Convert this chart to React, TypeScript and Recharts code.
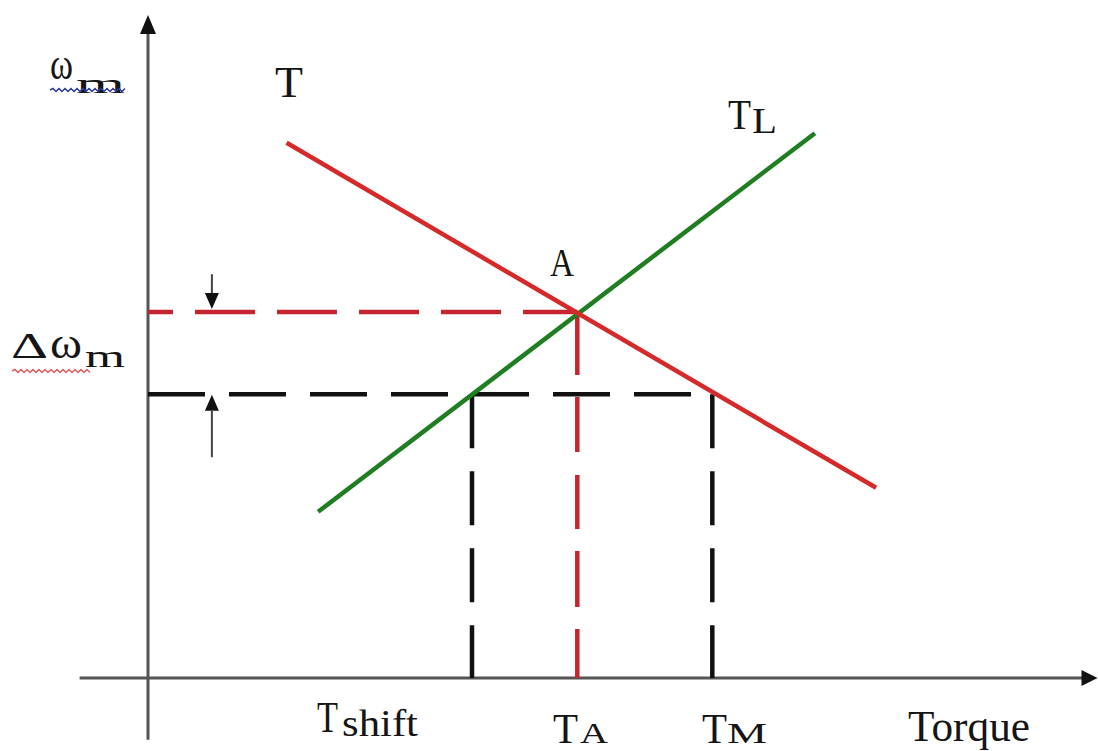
import React from 'react';
import { ComposedChart, Line, XAxis, YAxis, ReferenceLine, ReferenceDot } from 'recharts';

// Motor torque characteristic T (torque, speed)
const motorTorqueCurve = [
  { x: 15.4, y: 89.2 },
  { x: 80.9, y: 31.7 },
];
// Load torque characteristic TL
const loadTorqueCurve = [
  { x: 18.9, y: 27.7 },
  { x: 74.1, y: 90.8 },
];
// Operating point A and shifted speed level
const operatingTorque = 47.7;
const operatingSpeed = 61;
const shiftedSpeed = 47.3;
const shiftTorque = 36;
const maxTorque = 62.7;
// Axis extents
const axisXStart = -7.6;
const axisXEnd = 104.2;
const axisXTip = 105.5;
const axisYStart = -10.3;
const axisYEnd = 107.5;
const axisYTip = 110.5;
// Δω marker arrows
const markerX = 7.1;
const downArrow = { from: 67.3, to: 63.8, tip: 61.5 };
const upArrow = { from: 36.8, to: 44.5, tip: 47.2 };

const xDomain = [-148 / 9, 950 / 9];
const yDomain = [-73 / 6, 678 / 6];

const AXIS = '#555555';
const RED = '#d42a2a';
const DRED = '#c62530';
const GREEN = '#1f7d22';
const INK = '#151515';
const FONT = '"Liberation Serif", "Times New Roman", serif';

const upHead = (w: number, h: number, color: string) => (p: any) => (
  <polygon points={`${p.cx},${p.cy} ${p.cx - w},${p.cy + h} ${p.cx + w},${p.cy + h}`} fill={color} />
);
const downHead = (w: number, h: number, color: string) => (p: any) => (
  <polygon points={`${p.cx},${p.cy} ${p.cx - w},${p.cy - h} ${p.cx + w},${p.cy - h}`} fill={color} />
);
const rightHead = (w: number, h: number, color: string) => (p: any) => (
  <polygon points={`${p.cx},${p.cy} ${p.cx - h},${p.cy - w} ${p.cx - h},${p.cy + w}`} fill={color} />
);

const wave = (x0: number, x1: number, y: number) => {
  let d = `M ${x0} ${y}`;
  let up = true;
  for (let x = x0 + 3; x <= x1; x += 3) {
    d += ` L ${x} ${up ? y - 1.5 : y + 1.5}`;
    up = !up;
  }
  return d;
};

export default function App() {
  return (
    <div style={{ position: 'absolute', left: 0, top: 0, width: 1098, height: 751, background: '#fff', overflow: 'hidden' }}>
      <ComposedChart width={1098} height={751} margin={{ top: 0, right: 0, bottom: 0, left: 0 }}>
        <XAxis type="number" dataKey="x" domain={xDomain} allowDataOverflow hide />
        <YAxis type="number" dataKey="y" domain={yDomain} allowDataOverflow hide />

        {/* axes */}
        <ReferenceLine segment={[{ x: 0, y: axisYStart }, { x: 0, y: axisYEnd }]} stroke={AXIS} strokeWidth={3} ifOverflow="visible" />
        <ReferenceLine segment={[{ x: axisXStart, y: 0 }, { x: axisXEnd, y: 0 }]} stroke={AXIS} strokeWidth={3} ifOverflow="visible" />
        <ReferenceDot x={0} y={axisYTip} shape={upHead(8, 19, '#111')} ifOverflow="visible" />
        <ReferenceDot x={axisXTip} y={0} shape={rightHead(8, 16, '#111')} ifOverflow="visible" />

        {/* dashed guides */}
        <ReferenceLine segment={[{ x: 0, y: shiftedSpeed }, { x: maxTorque, y: shiftedSpeed }]} stroke="#111" strokeWidth={4.5} strokeDasharray="57 24" ifOverflow="visible" />
        <ReferenceLine segment={[{ x: shiftTorque, y: shiftedSpeed }, { x: shiftTorque, y: 0 }]} stroke="#111" strokeWidth={4.5} strokeDasharray="54 23" ifOverflow="visible" />
        <ReferenceLine segment={[{ x: maxTorque, y: shiftedSpeed }, { x: maxTorque, y: 0 }]} stroke="#111" strokeWidth={4.5} strokeDasharray="54 23" ifOverflow="visible" />
        <ReferenceLine segment={[{ x: 0, y: operatingSpeed }, { x: operatingTorque, y: operatingSpeed }]} stroke={DRED} strokeWidth={4.5} strokeDasharray="60 22" strokeDashoffset={35} ifOverflow="visible" />
        <ReferenceLine segment={[{ x: operatingTorque, y: operatingSpeed }, { x: operatingTorque, y: 0 }]} stroke={DRED} strokeWidth={4.5} strokeDasharray="63 22 55 23 54 22 56 22 60" ifOverflow="visible" />

        {/* Δω marker arrows */}
        <ReferenceLine segment={[{ x: markerX, y: downArrow.from }, { x: markerX, y: downArrow.to }]} stroke="#444" strokeWidth={2} ifOverflow="visible" />
        <ReferenceDot x={markerX} y={downArrow.tip} shape={downHead(7, 16, '#111')} ifOverflow="visible" />
        <ReferenceLine segment={[{ x: markerX, y: upArrow.from }, { x: markerX, y: upArrow.to }]} stroke="#444" strokeWidth={2} ifOverflow="visible" />
        <ReferenceDot x={markerX} y={upArrow.tip} shape={upHead(7, 16, '#111')} ifOverflow="visible" />

        <Line data={loadTorqueCurve} dataKey="y" type="linear" stroke={GREEN} strokeWidth={4.5} dot={false} activeDot={false} isAnimationActive={false} />
        <Line data={motorTorqueCurve} dataKey="y" type="linear" stroke={RED} strokeWidth={4.5} dot={false} activeDot={false} isAnimationActive={false} />
      </ComposedChart>

      <svg width={1098} height={751} style={{ position: 'absolute', left: 0, top: 0, pointerEvents: 'none' }}>
        <g fill={INK} fontFamily={FONT}>
          <text x={50} y={79} fontSize={44} textLength={23} lengthAdjust="spacingAndGlyphs">ω</text>
          <text x={76} y={93} fontSize={28} textLength={49} lengthAdjust="spacingAndGlyphs">m</text>
          <path d={wave(50, 125, 90)} stroke="#2b3a9c" strokeWidth={1.5} fill="none" />

          <text x={11} y={358} fontSize={36} textLength={37} lengthAdjust="spacingAndGlyphs">Δ</text>
          <text x={50} y={358} fontSize={44} textLength={32} lengthAdjust="spacingAndGlyphs">ω</text>
          <text x={85} y={367} fontSize={31} textLength={40} lengthAdjust="spacingAndGlyphs">m</text>
          <path d={wave(12, 92, 371)} stroke="#e06060" strokeWidth={1.5} fill="none" />

          <text x={275} y={97} fontSize={44} textLength={28} lengthAdjust="spacingAndGlyphs">T</text>
          <text x={728} y={129} fontSize={42} textLength={23} lengthAdjust="spacingAndGlyphs">T</text>
          <text x={752} y={133} fontSize={35} textLength={25} lengthAdjust="spacingAndGlyphs">L</text>
          <text x={550} y={276} fontSize={40} textLength={24} lengthAdjust="spacingAndGlyphs">A</text>

          <text x={317} y={732} fontSize={44} textLength={21} lengthAdjust="spacingAndGlyphs">T</text>
          <text x={342} y={736} fontSize={38} textLength={76} lengthAdjust="spacingAndGlyphs">shift</text>
          <text x={553} y={743} fontSize={42} textLength={25} lengthAdjust="spacingAndGlyphs">T</text>
          <text x={580} y={743} fontSize={30} textLength={28} lengthAdjust="spacingAndGlyphs">A</text>
          <text x={702} y={743} fontSize={42} textLength={25} lengthAdjust="spacingAndGlyphs">T</text>
          <text x={727} y={743} fontSize={30} textLength={40} lengthAdjust="spacingAndGlyphs">M</text>
          <text x={908} y={741} fontSize={44} textLength={122} lengthAdjust="spacingAndGlyphs">Torque</text>
        </g>
      </svg>
    </div>
  );
}
